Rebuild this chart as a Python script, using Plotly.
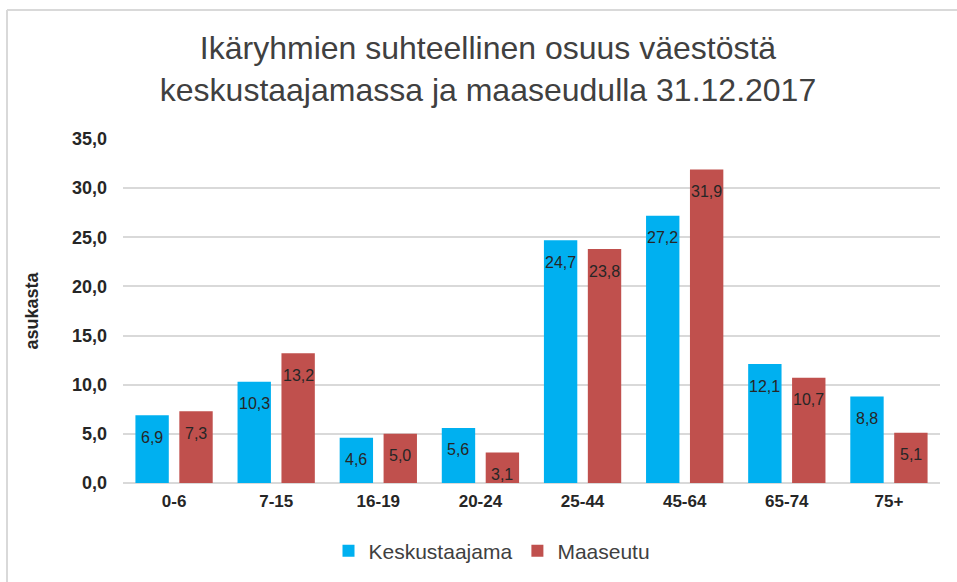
import plotly.graph_objects as go

categories = ["0-6", "7-15", "16-19", "20-24", "25-44", "45-64", "65-74", "75+"]
keskustaajama = [6.9, 10.3, 4.6, 5.6, 24.7, 27.2, 12.1, 8.8]
maaseutu = [7.3, 13.2, 5.0, 3.1, 23.8, 31.9, 10.7, 5.1]
series_names = ["Keskustaajama", "Maaseutu"]
colors = ["#00B0F0", "#C0504D"]
title_text = "Ikäryhmien suhteellinen osuus väestöstä<br>keskustaajamassa ja maaseudulla 31.12.2017"
y_title = "asukasta"

W, H = 957, 582
L, R, T, B = 123, 17, 139, 99
pw, ph = W - L - R, H - T - B
FONT = "Liberation Sans, Arial"

def px_x(x):
    return (x - L) / pw

def px_y(y):
    return (H - B - y) / ph

fig = go.Figure()
for name, vals, col in zip(series_names, [keskustaajama, maaseutu], colors):
    fig.add_trace(go.Bar(
        x=categories, y=vals, name=name,
        marker=dict(color=col, line=dict(width=0)),
    ))

# value labels inside top of bars
for vals, shift in [(keskustaajama, -22), (maaseutu, 22)]:
    for c, v in zip(categories, vals):
        fig.add_annotation(
            x=c, y=v, xref="x", yref="y", text=f"{v:.1f}".replace(".", ","),
            showarrow=False, xshift=shift, yshift=-22, yanchor="middle",
            font=dict(family=FONT, size=16, color="#262626"),
        )

fig.update_layout(
    width=W, height=H,
    margin=dict(l=L, r=R, t=T, b=B),
    paper_bgcolor="white", plot_bgcolor="white",
    separators=",.",
    barmode="group", bargap=0.14, bargroupgap=0.24,
    title=dict(text=title_text, x=488 / W, xref="container", xanchor="center",
               y=1 - 59 / H, yref="container", yanchor="middle",
               font=dict(family=FONT, size=32, color="#404040")),
    font=dict(family=FONT, color="#404040"),
    xaxis=dict(showgrid=False, showline=False, ticks="",
               tickfont=dict(size=17, color="#262626", family=FONT),
               tickprefix="<b>", ticksuffix="</b>", ticklabelstandoff=6),
    yaxis=dict(range=[0, 35], dtick=5, tickformat=".1f",
               showgrid=True, gridcolor="#D9D9D9", gridwidth=2,
               zeroline=True, zerolinecolor="#D9D9D9", zerolinewidth=2,
               showline=False, ticks="",
               tickprefix="<b>", ticksuffix="</b>", ticklabelstandoff=15,
               tickfont=dict(size=18, color="#262626", family=FONT),
               title=dict(text="<b>" + y_title + "</b>", standoff=28,
                          font=dict(size=18, color="#262626", family=FONT))),
    legend=dict(orientation="h", x=492 / W, xref="container", xanchor="center",
                y=1 - 551 / H, yref="container", yanchor="middle",
                font=dict(size=21, color="#404040", family=FONT),
                itemwidth=30, traceorder="normal"),
    showlegend=True,
)

fig.add_shape(type="line", xref="paper", yref="paper",
              x0=px_x(7), x1=px_x(960), y0=px_y(10), y1=px_y(10),
              line=dict(color="#D9D9D9", width=2))
fig.add_shape(type="line", xref="paper", yref="paper",
              x0=px_x(7), x1=px_x(7), y0=px_y(10), y1=px_y(590),
              line=dict(color="#D9D9D9", width=2))

fig.write_html("out.html", config={"displayModeBar": False},
               post_script="document.body.style.margin='0';")
